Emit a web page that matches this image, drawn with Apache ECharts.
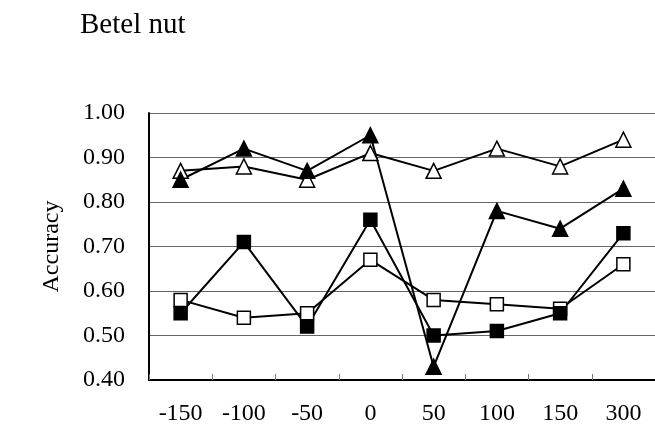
<!DOCTYPE html>
<html>
<head>
<meta charset="utf-8">
<script src="https://cdn.jsdelivr.net/npm/echarts@6/dist/echarts.min.js"></script>
<style>
html,body{margin:0;padding:0;background:#fff;}
#chart{width:655px;height:432px;}
</style>
</head>
<body>
<div id="chart"></div>
<script>
var categories = ['-150', '-100', '-50', '0', '50', '100', '150', '300'];
var openSquares = [0.58, 0.54, 0.55, 0.67, 0.58, 0.57, 0.56, 0.66];
var filledSquares = [0.55, 0.71, 0.52, 0.76, 0.50, 0.51, 0.55, 0.73];
var openTriangles = [0.87, 0.88, 0.85, 0.91, 0.87, 0.92, 0.88, 0.94];
var filledTriangles = [0.85, 0.92, 0.87, 0.95, 0.43, 0.78, 0.74, 0.83];
var yMin = 0.4, yMax = 1.0, yStep = 0.1;

var FONT = '"Liberation Serif", "Times New Roman", serif';

function mk(name, data, symbol, size, filled) {
  return {
    name: name,
    type: 'line',
    data: data,
    symbol: symbol,
    symbolSize: size,
    showSymbol: true,
    lineStyle: {color: '#000', width: 2},
    itemStyle: {color: filled ? '#000' : '#fff', borderColor: '#000', borderWidth: 1.5},
    emphasis: {disabled: true},
    animation: false
  };
}

var chart = echarts.init(document.getElementById('chart'), null, {renderer: 'canvas'});
chart.setOption({
  backgroundColor: '#fff',
  animation: false,
  title: {
    text: 'Betel nut',
    left: 80, top: 11, padding: 0,
    textStyle: {fontFamily: FONT, fontSize: 29, fontWeight: 'normal', color: '#000'}
  },
  grid: {left: 149, right: -6, top: 113, bottom: 52, containLabel: false},
  xAxis: {
    type: 'category',
    data: categories,
    boundaryGap: true,
    axisLine: {show: true, lineStyle: {color: '#000', width: 2}},
    axisTick: {show: true, inside: true, length: 6, lineStyle: {color: '#777', width: 1}},
    axisLabel: {fontFamily: FONT, fontSize: 24, color: '#000', margin: 22},
    splitLine: {show: false}
  },
  yAxis: {
    type: 'value',
    min: yMin, max: yMax, interval: yStep,
    name: 'Accuracy',
    nameLocation: 'middle',
    nameGap: 85,
    nameRotate: 90,
    nameTextStyle: {fontFamily: FONT, fontSize: 24, color: '#000'},
    axisLine: {show: true, lineStyle: {color: '#000', width: 2}},
    axisTick: {show: false},
    axisLabel: {fontFamily: FONT, fontSize: 24, color: '#000', margin: 24,
      formatter: function (v) { return v.toFixed(2); }},
    splitLine: {show: true, lineStyle: {color: '#666', width: 1}}
  },
  series: [
    mk('open squares', openSquares, 'rect', 13, false),
    mk('filled squares', filledSquares, 'rect', 13, true),
    mk('open triangles', openTriangles, 'triangle', 15, false),
    mk('filled triangles', filledTriangles, 'triangle', 15, true)
  ]
});
</script>
</body>
</html>
